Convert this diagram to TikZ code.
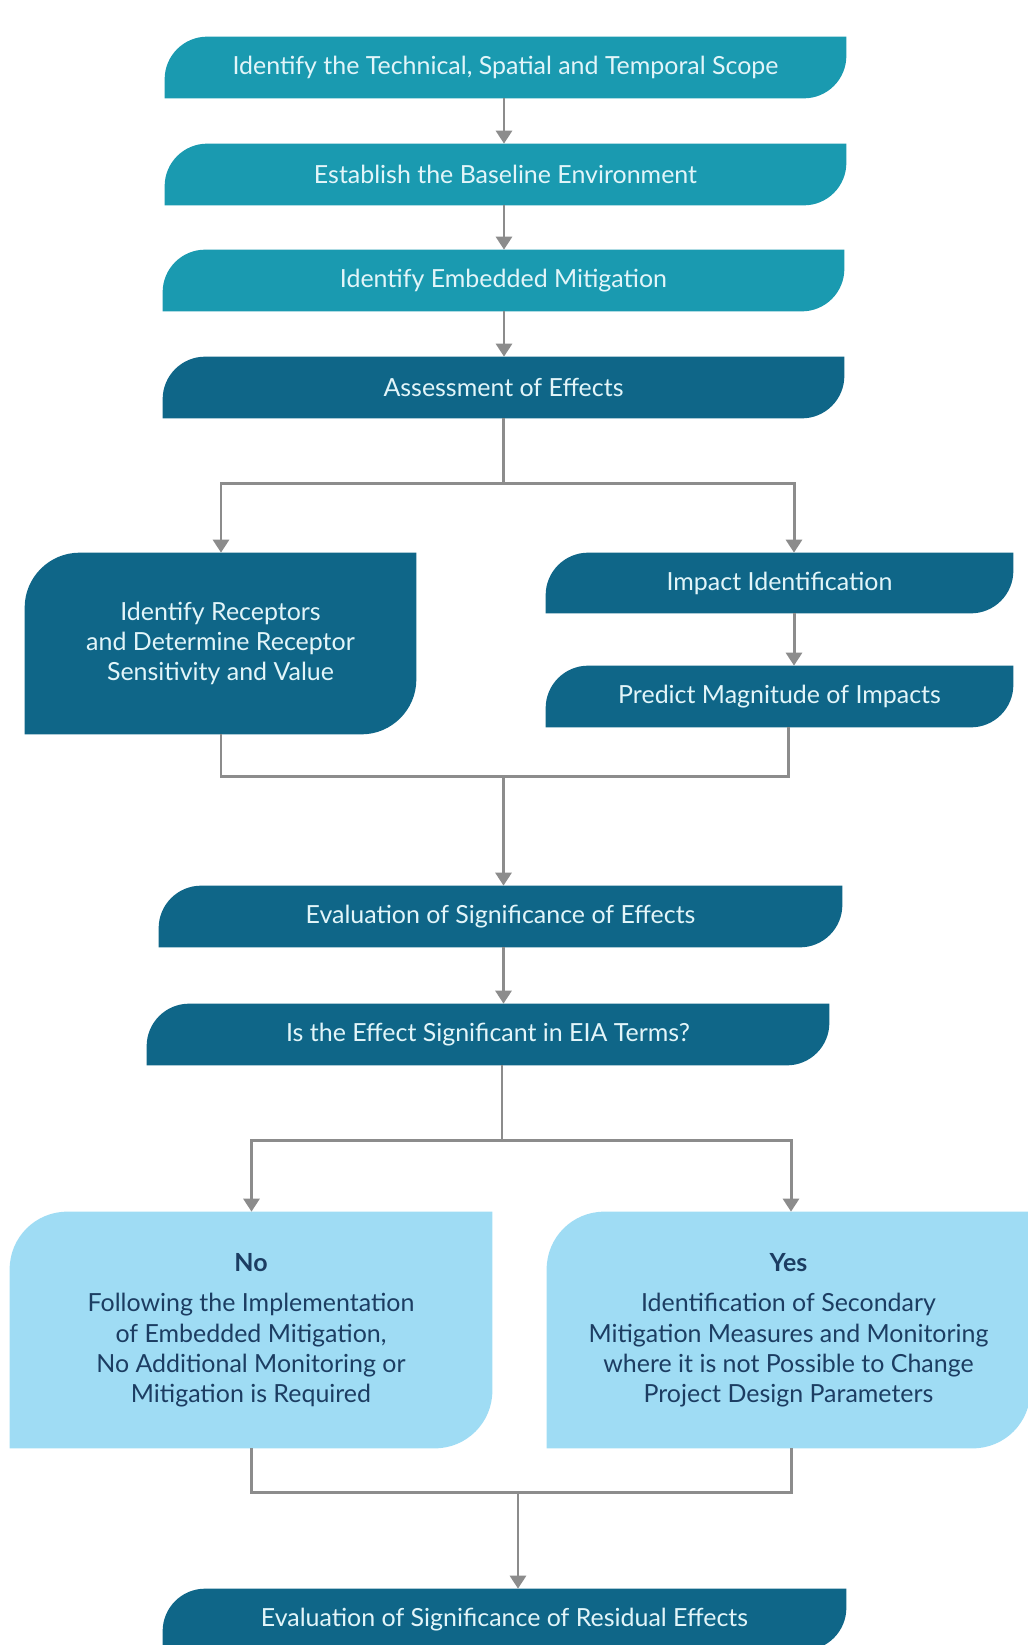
\documentclass[tikz,border=0pt]{standalone}
\usepackage{fontspec}
\setmainfont{Lato}
\usetikzlibrary{positioning,arrows.meta,backgrounds}
\definecolor{tealA}{HTML}{1A9AB0}
\definecolor{tealB}{HTML}{0F6688}
\definecolor{skyC}{HTML}{9FDCF4}
\definecolor{inkD}{HTML}{1C3D62}
\definecolor{paleE}{HTML}{E2F5F9}
\definecolor{lineG}{HTML}{8C8C8C}
% leaf shaped box behind a node: node, colour, corner radius
\newcommand\leafbox[3]{%
\begin{pgfonlayer}{background}
\fill[#2] (#1.south west) [rounded corners=#3] -- (#1.north west) [sharp corners] -- (#1.north east) [rounded corners=#3] -- (#1.south east) [sharp corners] -- cycle;
\end{pgfonlayer}
}

\begin{document}
\begin{tikzpicture}[
  every node/.style={font=\fontsize{14.2}{17.2}\selectfont, align=center, inner sep=0pt},
  darkstep/.style={text=paleE},
  lightstep/.style={text=inkD},
  wire/.style={draw=lineG, line width=1.7pt},
  flow/.style={wire, -{Triangle[width=0.32cm,length=0.26cm]}}
  ]
	%% frame of the page
	\useasboundingbox (0,0) rectangle (20.54,-32.90);
	
	% main column
	\node[darkstep, minimum width=13.62cm, minimum height=1.22cm] (scope) at (10.11,-1.35) {Identify the Technical, Spatial and Temporal Scope};
	\node[darkstep, minimum width=13.62cm, minimum height=1.22cm] (base) at (10.11,-3.49) {Establish the Baseline Environment};
	\node[darkstep, minimum width=13.62cm, minimum height=1.22cm] (embed) at (10.07,-5.61) {Identify Embedded Mitigation};
	\node[darkstep, minimum width=13.62cm, minimum height=1.22cm] (assess) at (10.07,-7.75) {Assessment of Effects};
	
	% two branches
	\node[darkstep, minimum width=7.82cm, minimum height=3.62cm] (recep) at (4.41,-12.87) {Identify Receptors\\and Determine Receptor\\Sensitivity and Value};
	\node[darkstep, minimum width=9.34cm, minimum height=1.20cm] (impact) at (15.59,-11.66) {Impact Identification};
	\node[darkstep, minimum width=9.34cm, minimum height=1.22cm] (predict) at (15.59,-13.93) {Predict Magnitude of Impacts};
	
	\node[darkstep, minimum width=13.66cm, minimum height=1.22cm] (evalfx) at (10.01,-18.33) {Evaluation of Significance of Effects};
	\node[darkstep, minimum width=13.64cm, minimum height=1.22cm] (signif) at (9.76,-20.69) {Is the Effect Significant in EIA Terms?};
	
	% answers
	\node[lightstep, minimum width=9.64cm, minimum height=4.72cm] (nobox) at (5.02,-26.60) {\textbf{No}\\[6pt]Following the Implementation\\of Embedded Mitigation,\\No Additional Monitoring or\\Mitigation is Required};
	\node[lightstep, minimum width=9.66cm, minimum height=4.72cm] (yesbox) at (15.77,-26.60) {\textbf{Yes}\\[6pt]Identification of Secondary\\Mitigation Measures and Monitoring\\where it is not Possible to Change\\Project Design Parameters};
	
	\node[darkstep, minimum width=13.66cm, minimum height=1.22cm] (resid) at (10.09,-32.39) {Evaluation of Significance of Residual Effects};
	
	\leafbox{scope}{tealA}{0.85cm}
	\leafbox{base}{tealA}{0.85cm}
	\leafbox{embed}{tealA}{0.85cm}
	\leafbox{assess}{tealB}{0.85cm}
	\leafbox{recep}{tealB}{1.1cm}
	\leafbox{impact}{tealB}{0.85cm}
	\leafbox{predict}{tealB}{0.85cm}
	\leafbox{evalfx}{tealB}{0.85cm}
	\leafbox{signif}{tealB}{0.85cm}
	\leafbox{nobox}{skyC}{1.15cm}
	\leafbox{yesbox}{skyC}{1.15cm}
	\leafbox{resid}{tealB}{0.85cm}
	
	% connectors
	\coordinate (spine) at (10.08,0);
	\draw[flow] (scope.south -| spine) -- (base.north -| spine);
	\draw[flow] (base.south -| spine) -- (embed.north -| spine);
	\draw[flow] (embed.south -| spine) -- (assess.north -| spine);
	
	\coordinate (forkA) at (10.07,-9.66);
	\coordinate (forkAl) at (4.42,-9.66);
	\coordinate (forkAr) at (15.88,-9.66);
	\draw[wire] (assess.south -| forkA) -- (forkA);
	\draw[flow] (forkA) -- (forkAl) -- (recep.north -| forkAl);
	\draw[flow] (forkA) -- (forkAr) -- (impact.north -| forkAr);
	\draw[flow] (impact.south -| forkAr) -- (predict.north -| forkAr);
	
	\coordinate (joinA) at (10.07,-15.52);
	\coordinate (joinAl) at (4.42,-15.52);
	\coordinate (joinAr) at (15.76,-15.52);
	\draw[wire] (recep.south -| joinAl) -- (joinAl) -- (joinAr) -- (predict.south -| joinAr);
	\draw[flow] (joinA) -- (evalfx.north -| joinA);
	\draw[flow] (evalfx.south -| joinA) -- (signif.north -| joinA);
	
	\coordinate (forkB) at (10.04,-22.80);
	\coordinate (forkBl) at (5.03,-22.80);
	\coordinate (forkBr) at (15.82,-22.80);
	\draw[wire] (signif.south -| forkB) -- (forkB);
	\draw[flow] (forkB) -- (forkBl) -- (nobox.north -| forkBl);
	\draw[flow] (forkB) -- (forkBr) -- (yesbox.north -| forkBr);
	
	\coordinate (joinB) at (10.36,-29.84);
	\coordinate (joinBl) at (5.03,-29.84);
	\coordinate (joinBr) at (15.82,-29.84);
	\draw[wire] (nobox.south -| joinBl) -- (joinBl) -- (joinBr) -- (yesbox.south -| joinBr);
	\draw[flow] (joinB) -- (resid.north -| joinB);
\end{tikzpicture}
\end{document}
